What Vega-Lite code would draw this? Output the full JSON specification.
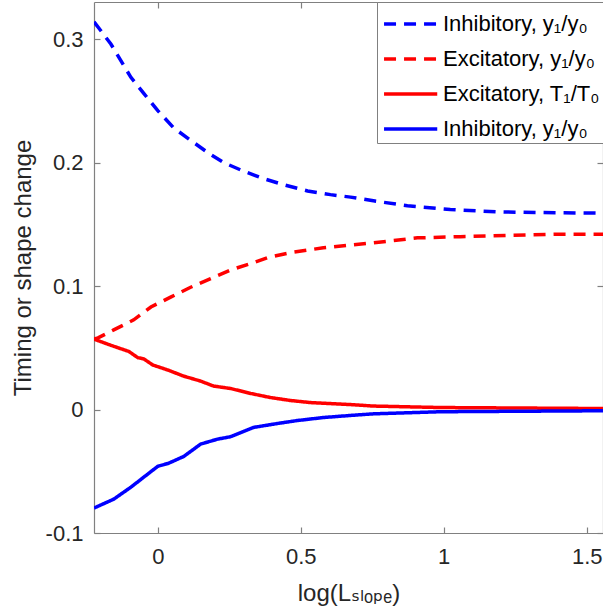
{
  "$schema": "https://vega.github.io/schema/vega-lite/v6.json",
  "width": 509,
  "height": 531,
  "autosize": {"type": "none"},
  "padding": {"left": 94, "top": 2, "right": 0, "bottom": 82},
  "background": "white",
  "config": {
    "view": {"stroke": null},
    "font": "Liberation Sans",
    "axis": {
      "grid": false,
      "domainColor": "#808080",
      "tickColor": "#808080",
      "tickSize": -6,
      "tickWidth": 1.2,
      "domainWidth": 1.2,
      "labelColor": "#262626",
      "titleColor": "#262626",
      "labelFont": "Liberation Sans",
      "titleFont": "Liberation Sans, DejaVu Sans",
      "labelFontSize": 22,
      "titleFontSize": 24,
      "titleFontWeight": "normal"
    },
    "legend": {
      "orient": "top-right",
      "offset": 0,
      "padding": 3,
      "strokeColor": "#808080",
      "fillColor": "white",
      "symbolType": "M-0.88,0H2.25",
      "symbolSize": 1156,
      "symbolStrokeWidth": 3.5,
      "labelFont": "Liberation Sans, DejaVu Sans",
      "labelFontSize": 22,
      "labelColor": "#000000",
      "labelOffset": 25,
      "labelLimit": 300,
      "rowPadding": 5
    }
  },
  "data": {
    "values": [
      {"s": "a", "x": -0.223, "y": 0.314},
      {"s": "a", "x": -0.164, "y": 0.296},
      {"s": "a", "x": -0.094, "y": 0.269},
      {"s": "a", "x": -0.049, "y": 0.256},
      {"s": "a", "x": 0.0, "y": 0.242},
      {"s": "a", "x": 0.056, "y": 0.228},
      {"s": "a", "x": 0.115, "y": 0.218},
      {"s": "a", "x": 0.175, "y": 0.208},
      {"s": "a", "x": 0.23, "y": 0.2},
      {"s": "a", "x": 0.3, "y": 0.193},
      {"s": "a", "x": 0.37, "y": 0.187},
      {"s": "a", "x": 0.44, "y": 0.182},
      {"s": "a", "x": 0.524, "y": 0.177},
      {"s": "a", "x": 0.604, "y": 0.174},
      {"s": "a", "x": 0.674, "y": 0.172},
      {"s": "a", "x": 0.754, "y": 0.169},
      {"s": "a", "x": 0.873, "y": 0.165},
      {"s": "a", "x": 1.023, "y": 0.162},
      {"s": "a", "x": 1.187, "y": 0.16},
      {"s": "a", "x": 1.337, "y": 0.1595},
      {"s": "a", "x": 1.557, "y": 0.159},
      {"s": "b", "x": -0.223, "y": 0.057},
      {"s": "b", "x": -0.209, "y": 0.058},
      {"s": "b", "x": -0.154, "y": 0.0645},
      {"s": "b", "x": -0.084, "y": 0.0726},
      {"s": "b", "x": -0.024, "y": 0.083},
      {"s": "b", "x": 0.045, "y": 0.091},
      {"s": "b", "x": 0.115, "y": 0.099},
      {"s": "b", "x": 0.185, "y": 0.106},
      {"s": "b", "x": 0.255, "y": 0.113},
      {"s": "b", "x": 0.335, "y": 0.119},
      {"s": "b", "x": 0.384, "y": 0.123},
      {"s": "b", "x": 0.464, "y": 0.127},
      {"s": "b", "x": 0.579, "y": 0.131},
      {"s": "b", "x": 0.663, "y": 0.133},
      {"s": "b", "x": 0.754, "y": 0.135},
      {"s": "b", "x": 0.908, "y": 0.139},
      {"s": "b", "x": 1.058, "y": 0.14},
      {"s": "b", "x": 1.222, "y": 0.141},
      {"s": "b", "x": 1.396, "y": 0.142},
      {"s": "b", "x": 1.557, "y": 0.142},
      {"s": "c", "x": -0.223, "y": 0.057},
      {"s": "c", "x": -0.164, "y": 0.052},
      {"s": "c", "x": -0.101, "y": 0.047},
      {"s": "c", "x": -0.07, "y": 0.042},
      {"s": "c", "x": -0.049, "y": 0.041},
      {"s": "c", "x": -0.017, "y": 0.036},
      {"s": "c", "x": 0.035, "y": 0.032},
      {"s": "c", "x": 0.091, "y": 0.027},
      {"s": "c", "x": 0.15, "y": 0.023},
      {"s": "c", "x": 0.195, "y": 0.019},
      {"s": "c", "x": 0.255, "y": 0.017},
      {"s": "c", "x": 0.325, "y": 0.013},
      {"s": "c", "x": 0.394, "y": 0.0097},
      {"s": "c", "x": 0.464, "y": 0.0073},
      {"s": "c", "x": 0.534, "y": 0.0056},
      {"s": "c", "x": 0.604, "y": 0.0048},
      {"s": "c", "x": 0.674, "y": 0.004},
      {"s": "c", "x": 0.754, "y": 0.0028},
      {"s": "c", "x": 0.988, "y": 0.0016},
      {"s": "c", "x": 1.557, "y": 0.0008},
      {"s": "d", "x": -0.223, "y": -0.0798},
      {"s": "d", "x": -0.154, "y": -0.0726},
      {"s": "d", "x": -0.094, "y": -0.0629},
      {"s": "d", "x": -0.049, "y": -0.0548},
      {"s": "d", "x": 0.0, "y": -0.046},
      {"s": "d", "x": 0.038, "y": -0.0435},
      {"s": "d", "x": 0.091, "y": -0.038},
      {"s": "d", "x": 0.15, "y": -0.028},
      {"s": "d", "x": 0.209, "y": -0.024},
      {"s": "d", "x": 0.255, "y": -0.022},
      {"s": "d", "x": 0.335, "y": -0.0145},
      {"s": "d", "x": 0.419, "y": -0.0113},
      {"s": "d", "x": 0.489, "y": -0.0089},
      {"s": "d", "x": 0.579, "y": -0.0065},
      {"s": "d", "x": 0.674, "y": -0.0048},
      {"s": "d", "x": 0.754, "y": -0.0035},
      {"s": "d", "x": 0.988, "y": -0.0018},
      {"s": "d", "x": 1.557, "y": -0.001}
    ]
  },
  "layer": [
    {
      "mark": {"type": "line", "strokeWidth": 3.5, "clip": true},
      "encoding": {
        "x": {
          "field": "x", "type": "quantitative",
          "scale": {"domain": [-0.223, 1.557], "nice": false, "zero": false},
          "axis": {"orient": "bottom", "values": [0, 0.5, 1, 1.5], "labelExpr": "datum.value < 0 ? '-' + format(-datum.value, '~g') : format(datum.value, '~g')", "labelPadding": 19, "title": "log(Lₛₗₒₚₑ)", "titlePadding": 14}
        },
        "y": {
          "field": "y", "type": "quantitative",
          "scale": {"domain": [-0.1, 0.33], "nice": false, "zero": false},
          "axis": {"orient": "left", "values": [-0.1, 0, 0.1, 0.2, 0.3], "labelExpr": "datum.value < 0 ? '-' + format(-datum.value, '~g') : format(datum.value, '~g')", "labelPadding": 17, "title": "Timing or shape change", "titlePadding": 10}
        },
        "color": {
          "field": "s", "type": "nominal",
          "scale": {"domain": ["a", "b", "c", "d"], "range": ["#0000FF", "#FF0000", "#FF0000", "#0000FF"]},
          "legend": {"title": null, "labelExpr": "{'a':'Inhibitory, y₁/y₀','b':'Excitatory, y₁/y₀','c':'Excitatory, T₁/T₀','d':'Inhibitory, y₁/y₀'}[datum.label]"}
        },
        "strokeDash": {
          "field": "s", "type": "nominal",
          "scale": {"domain": ["a", "b", "c", "d"], "range": [[12, 8], [12, 8], [1, 0], [1, 0]]},
          "legend": {"title": null, "labelExpr": "{'a':'Inhibitory, y₁/y₀','b':'Excitatory, y₁/y₀','c':'Excitatory, T₁/T₀','d':'Inhibitory, y₁/y₀'}[datum.label]"}
        }
      }
    },
    {
      "mark": {"type": "point", "opacity": 0},
      "encoding": {
        "x": {
          "field": "x", "type": "quantitative",
          "axis": {"orient": "top", "values": [0, 0.5, 1, 1.5], "labels": false, "title": null}
        },
        "y": {
          "field": "y", "type": "quantitative",
          "axis": {"orient": "right", "values": [-0.1, 0, 0.1, 0.2, 0.3], "labels": false, "title": null}
        }
      }
    }
  ],
  "resolve": {"axis": {"x": "independent", "y": "independent"}}
}
